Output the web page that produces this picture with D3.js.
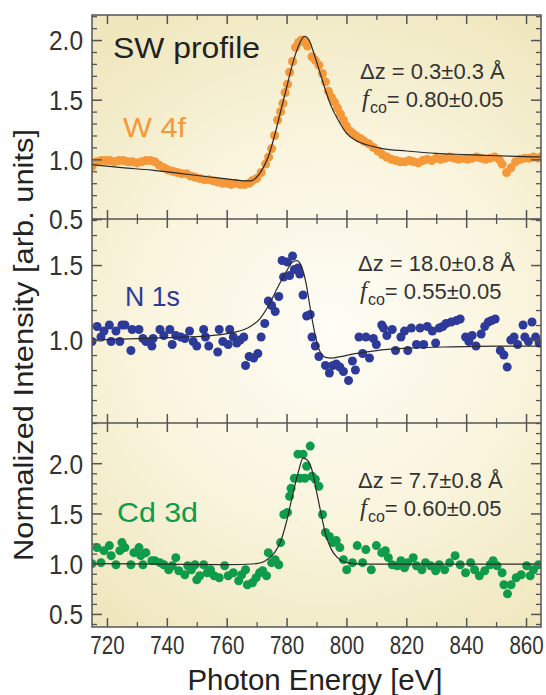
<!DOCTYPE html>
<html><head><meta charset="utf-8">
<script src="https://cdn.jsdelivr.net/npm/d3@7"></script>
<style>body{margin:0;background:#fff}svg{display:block}</style>
</head><body><svg id="c" width="546" height="695"></svg>
<script>
// ---------- data ----------
const xTickValues = [720,740,760,780,800,820,840,860];
const xMinorValues = [730,750,770,790,810,830,850];

// W 4f (orange)
const wE = [715,716.5,718,719.5,721,722.5,724,725.5,727,728.5,730,731.5,733,734.5,736,737.5,739,740.5,742,743.5,745,746.5,748,749.5,751,752.5,754,755.5,757,758.5,760,761.5,763,764.5,766,767.5,768.5,770,771.5,773,774,775,776,777,778,778.8,779.5,780.3,781,782,783,784,785,786.2,787,788.5,789.6,790.8,792,793,794,795,796,797,798,799,800,801,802,803,804,805,806,807.5,809,810.5,812,813.5,815,816.5,818,819.5,821,822.5,824,825.5,827,828.5,830,831.5,833,834.5,836,837.5,839,840.5,842,843.5,845,846.5,848,849.5,851,852,853.5,855,856.5,858,859.5,861,862.5,864,865];
const wI = [0.94,0.98,0.99,0.99,0.99,0.98,0.99,0.99,0.98,0.98,0.97,0.98,0.99,0.99,0.98,0.95,0.93,0.91,0.90,0.89,0.88,0.88,0.86,0.85,0.84,0.83,0.83,0.82,0.81,0.80,0.80,0.79,0.80,0.79,0.79,0.80,0.82,0.84,0.89,0.96,1.02,1.09,1.20,1.33,1.40,1.47,1.56,1.63,1.73,1.82,1.94,1.98,2.00,1.98,1.95,1.86,1.83,1.79,1.72,1.65,1.57,1.52,1.48,1.43,1.38,1.33,1.28,1.24,1.22,1.20,1.18,1.17,1.15,1.13,1.10,1.07,1.04,1.02,1.00,0.99,0.98,0.98,0.99,0.98,0.97,0.99,1.00,0.99,1.01,1.00,1.01,1.02,1.01,1.00,1.01,1.00,1.01,1.02,1.01,1.00,1.01,1.02,1.00,0.96,0.89,0.93,0.98,1.00,1.01,1.01,1.02,1.01,1.02];
const wFitE = [715,725,735,745,755,762,766,768,770,772,774,776,778,780,782,784,786,787.5,789,791,793,795,797,800,803,807,812,820,830,840,850,865];
const wFitI = [0.955,0.93,0.91,0.88,0.85,0.83,0.82,0.82,0.85,0.92,1.03,1.20,1.40,1.60,1.80,1.95,2.03,2.00,1.90,1.74,1.58,1.44,1.34,1.22,1.16,1.12,1.09,1.07,1.05,1.04,1.03,1.02];

// N 1s (blue)
const nE = [715,716.7,718,719,720.8,721.4,723,724.3,725,726,728,728.4,730.7,732,733,735,735.4,737.7,739,741,741.8,743,744.7,746,747.6,748.8,750,752.3,752.9,754,757,757.5,758.7,760.5,761,762.2,763.4,764.5,765.7,766.3,767.5,769,770.4,771.5,772.7,773.9,775,776.2,777.4,778.5,779,780.3,781,782,782.6,783.8,784.4,785.5,786.7,787.9,788.5,789.6,790.8,793,794.3,795.5,796.6,797.8,799,800.7,802,803,804.2,805.4,806.5,807.7,809,810,811.8,812.4,813.5,815.3,816.4,818.2,819.4,820.5,821.7,823.4,824.6,825.8,827,828.7,829.8,831,832.2,833.3,835,836.8,838,839.8,840.9,842,843.3,845,846.2,847.4,848.5,849.7,851.4,852.6,853.7,854.9,856,857.2,859,859.6,860.8,862,863.2,864.4];
const nI = [0.99,1.09,1.02,1.06,1.10,0.99,1.06,0.99,1.10,1.10,0.93,1.07,1.07,1.01,0.99,0.96,1.01,1.07,1.03,1.07,0.97,1.03,1.02,1.01,1.06,0.99,0.96,1.07,1.02,0.96,0.92,1.07,0.99,0.97,1.07,1.02,0.98,1.00,1.02,0.83,0.89,0.88,0.91,1.02,1.11,1.26,1.23,1.19,1.29,1.53,1.42,1.52,1.43,1.56,1.47,1.48,1.44,1.30,1.16,1.17,1.02,0.96,0.89,0.83,0.78,0.83,0.84,0.82,0.79,0.73,0.86,0.80,1.02,0.91,1.02,0.88,1.01,0.97,1.10,1.08,1.03,1.07,0.93,1.02,1.06,0.93,1.08,0.97,1.08,0.97,1.09,1.06,0.98,1.08,1.09,1.11,1.12,1.13,1.14,1.02,0.99,1.03,0.96,1.04,1.09,1.12,1.13,1.14,0.93,0.90,0.82,1.00,1.02,0.97,1.10,1.02,0.99,1.12,1.02,0.98];
const nFitE = [715,730,745,755,762,767,771,774,777,780,782,783.5,785,786.5,788,789.5,791,793,795,798,803,810,820,835,850,865];
const nFitI = [1.00,1.01,1.02,1.03,1.05,1.08,1.14,1.23,1.35,1.46,1.52,1.53,1.49,1.38,1.20,1.04,0.93,0.885,0.88,0.89,0.91,0.93,0.945,0.955,0.96,0.96];

// Cd 3d (green)
const cE = [715,716.7,718,719,720.8,721.4,723,724.3,725,726,728,729,730.7,731.3,732,733,735,736,737.7,739,740.6,741.8,743,744,746,747,748.2,749.4,750,751,752.3,753.5,754.6,755.8,757.5,759.3,760.5,762.2,764,765,766.3,766.9,768.6,769.8,771,772,773.3,773.9,775,776.2,777.4,778,779.1,780.3,781,781.5,782.6,783.8,784.4,785.5,786.1,786.7,787.9,788.5,789.6,790.8,792,793,794.3,795.5,796.6,797.8,799,800.1,802,803.6,805.4,806.5,808.3,810,811.8,813,814,815.3,817,818.2,819.4,820.5,822.3,823.4,825.2,826.4,828.1,829.8,831,832.8,834.5,836.3,838,839.8,841.5,842.8,844.4,846.2,848,849,850.3,852,852.6,853.8,855,856.7,858.4,860.2,861.4,862.5,864.2];
const cI = [1.00,1.16,1.01,1.13,1.18,1.08,0.99,1.13,1.21,1.16,0.99,1.11,1.16,1.08,0.99,1.11,1.03,1.03,1.01,0.99,0.94,0.98,1.06,0.93,0.89,0.98,0.94,0.99,0.84,0.88,0.99,0.91,0.94,0.88,0.86,0.98,0.88,0.91,0.83,0.89,0.94,0.79,0.81,0.86,0.91,0.93,0.88,1.11,1.01,1.04,0.99,1.21,1.49,1.51,1.67,1.75,1.85,2.09,1.85,2.09,1.85,1.97,2.17,1.87,1.84,1.77,1.49,1.31,1.27,1.21,1.23,1.16,1.04,0.94,1.01,1.18,1.01,1.14,0.94,1.18,1.11,1.13,1.06,0.99,0.98,1.03,0.96,1.01,1.06,0.98,0.94,1.01,0.98,0.93,0.99,0.94,1.01,1.08,0.99,0.91,1.01,0.94,0.88,0.93,0.99,1.03,0.98,0.91,0.79,0.70,0.79,0.86,0.89,0.98,0.88,0.94,0.99];
const cFitE = [715,740,760,770,773,776,778,780,782,784,785.5,787,788.5,790,791.5,793,795,797,800,805,820,865];
const cFitI = [1.0,0.995,0.99,1.0,1.03,1.11,1.22,1.42,1.68,1.92,2.05,2.03,1.93,1.72,1.50,1.30,1.14,1.06,1.01,0.995,0.995,0.995];

const panelLabels = ["W 4f","N 1s","Cd 3d"];
const dzTexts = ["0.3\u00B10.3","18.0\u00B10.8","7.7\u00B10.8"];
const fcoTexts = ["0.80\u00B10.05","0.55\u00B10.05","0.60\u00B10.05"];
const yMajor = [[0.5,1.0,1.5,2.0],[1.0,1.5],[0.5,1.0,1.5,2.0]];
const yDomains = [[0.5,2.21],[0.447,1.807],[0.37,2.40]];

// ---------- layout ----------
const svg = d3.select("#c");
const L = 92, R = 541;
const bands = [[15,219],[219,423],[423,627]];
const colors = ["#F5983A","#2D3A9A","#0E9B4A"];
const frameCol = "#555";
const x = d3.scaleLinear().domain([715,865]).range([L,R]);

const defs = svg.append("defs");
const grad = defs.append("radialGradient").attr("id","bg")
  .attr("gradientUnits","userSpaceOnUse").attr("cx",330).attr("cy",330).attr("r",360);
grad.append("stop").attr("offset","0").attr("stop-color","#FEFDF6");
grad.append("stop").attr("offset","0.5").attr("stop-color","#FAF5DF");
grad.append("stop").attr("offset","1").attr("stop-color","#EFE7BE");
svg.append("rect").attr("x",L).attr("y",15).attr("width",R-L).attr("height",612).attr("fill","url(#bg)");

const panels = [
  {E:wE,I:wI,fE:wFitE,fI:wFitI},
  {E:nE,I:nI,fE:nFitE,fI:nFitI},
  {E:cE,I:cI,fE:cFitE,fI:cFitI}
];
const font = "'Liberation Sans', Arial, Helvetica, sans-serif";

panels.forEach((p,i)=>{
  const [t,b] = bands[i];
  const y = d3.scaleLinear().domain(yDomains[i]).range([b,t]);
  const g = svg.append("g");
  defs.append("clipPath").attr("id","cl"+i).append("rect").attr("x",L).attr("y",t).attr("width",R-L).attr("height",b-t);
  const pts = p.E.map((e,k)=>[e,p.I[k]]);
  g.append("g").attr("clip-path",`url(#cl${i})`).selectAll("circle").data(pts).join("circle")
    .attr("cx",d=>x(d[0])).attr("cy",d=>y(d[1])).attr("r",4.5).attr("fill",colors[i]);
  const fit = p.fE.map((e,k)=>[e,p.fI[k]]);
  g.append("path").datum(fit).attr("fill","none").attr("stroke","#2a2a2a").attr("stroke-width",1.2)
    .attr("d",d3.line().x(d=>x(d[0])).y(d=>y(d[1])).curve(d3.curveMonotoneX));

  // y ticks
  const lo = Math.ceil(yDomains[i][0]*10), hi = Math.floor(yDomains[i][1]*10);
  const minor = d3.range(lo,hi+1).map(v=>v/10).filter(v=>!yMajor[i].some(m=>Math.abs(m-v)<1e-6));
  const axL = g.append("g").attr("transform",`translate(${L},0)`)
    .call(d3.axisLeft(y).tickValues(yMajor[i]).tickFormat(d3.format(".1f")).tickSizeInner(-10).tickSizeOuter(0).tickPadding(9));
  axL.select(".domain").remove();
  axL.selectAll("line").attr("stroke",frameCol).attr("stroke-width",1.5);
  axL.selectAll("text").attr("font-family",font).attr("font-size",28).attr("fill","#333")
    .attr("dy","0.35em").attr("textLength",34).attr("lengthAdjust","spacingAndGlyphs");
  const axLm = g.append("g").attr("transform",`translate(${L},0)`)
    .call(d3.axisLeft(y).tickValues(minor).tickFormat("").tickSizeInner(-5).tickSizeOuter(0));
  axLm.select(".domain").remove(); axLm.selectAll("line").attr("stroke",frameCol).attr("stroke-width",1.3);
  const axR = g.append("g").attr("transform",`translate(${R},0)`)
    .call(d3.axisRight(y).tickValues(yMajor[i]).tickFormat("").tickSizeInner(-10).tickSizeOuter(0));
  axR.select(".domain").remove(); axR.selectAll("line").attr("stroke",frameCol).attr("stroke-width",1.5);
  const axRm = g.append("g").attr("transform",`translate(${R},0)`)
    .call(d3.axisRight(y).tickValues(minor).tickFormat("").tickSizeInner(-5).tickSizeOuter(0));
  axRm.select(".domain").remove(); axRm.selectAll("line").attr("stroke",frameCol).attr("stroke-width",1.3);

  // x ticks at top & bottom of each band
  [[t,d3.axisTop],[b,d3.axisBottom]].forEach(([yy,fn])=>{
    const a1 = g.append("g").attr("transform",`translate(0,${yy})`)
      .call(fn(x).tickValues(xTickValues).tickFormat("").tickSizeInner(-9).tickSizeOuter(0));
    a1.select(".domain").remove(); a1.selectAll("line").attr("stroke",frameCol).attr("stroke-width",1.5);
    const a2 = g.append("g").attr("transform",`translate(0,${yy})`)
      .call(fn(x).tickValues(xMinorValues).tickFormat("").tickSizeInner(-5).tickSizeOuter(0));
    a2.select(".domain").remove(); a2.selectAll("line").attr("stroke",frameCol).attr("stroke-width",1.3);
  });

  // texts
  g.append("text").attr("x",[123,125,117][i]).attr("y",[137,306,522][i]).attr("font-family",font)
    .attr("font-size",28).attr("fill",colors[i]).attr("textLength",[63,55,81][i]).attr("lengthAdjust","spacingAndGlyphs")
    .text(panelLabels[i]);
  const dzY = [79,271,488][i], fY = [107,299,516][i];
  const dzX = [360,358,358][i];
  g.append("text").attr("x",dzX).attr("y",dzY).attr("font-family",font).attr("font-size",22).attr("fill","#333")
    .text("\u0394z = " + dzTexts[i] + "  \u00C5");
  const tf = g.append("text").attr("x",dzX+2).attr("y",fY).attr("font-family",font).attr("font-size",22).attr("fill","#333");
  tf.append("tspan").attr("font-family","'Liberation Serif','DejaVu Serif',serif").attr("font-style","italic").attr("font-size",25).text("f");
  tf.append("tspan").attr("font-size",16).attr("dy",6).attr("dx",1).text("co");
  tf.append("tspan").attr("dy",-6).text("= " + fcoTexts[i]);
});

// frame
svg.append("rect").attr("x",L).attr("y",15).attr("width",R-L).attr("height",612)
  .attr("fill","none").attr("stroke",frameCol).attr("stroke-width",1.5);
[219,423].forEach(v=>svg.append("line").attr("x1",L).attr("x2",R).attr("y1",v).attr("y2",v)
  .attr("stroke",frameCol).attr("stroke-width",1.5));

// bottom axis labels
const xa = svg.append("g").attr("transform","translate(0,627)")
  .call(d3.axisBottom(x).tickValues(xTickValues).tickSize(0).tickPadding(9).tickFormat(d3.format("d")));
xa.select(".domain").remove();
xa.selectAll("text").attr("font-family",font).attr("font-size",26).attr("fill","#333")
  .attr("transform","scale(0.79,1)");

svg.append("text").attr("x",113).attr("y",58).attr("font-family",font).attr("font-size",30)
  .attr("fill","#222").attr("textLength",147).attr("lengthAdjust","spacingAndGlyphs").text("SW profile");
svg.append("text").attr("x",315).attr("y",690).attr("text-anchor","middle").attr("font-family",font)
  .attr("font-size",30).attr("fill","#222").attr("textLength",255).attr("lengthAdjust","spacingAndGlyphs")
  .text("Photon  Energy [eV]");
svg.append("text").attr("transform","translate(33,345) rotate(-90)").attr("text-anchor","middle")
  .attr("font-family",font).attr("font-size",27).attr("fill","#222").attr("textLength",432).attr("lengthAdjust","spacingAndGlyphs")
  .text("Normalized  Intensity [arb. units]");
</script></body></html>
